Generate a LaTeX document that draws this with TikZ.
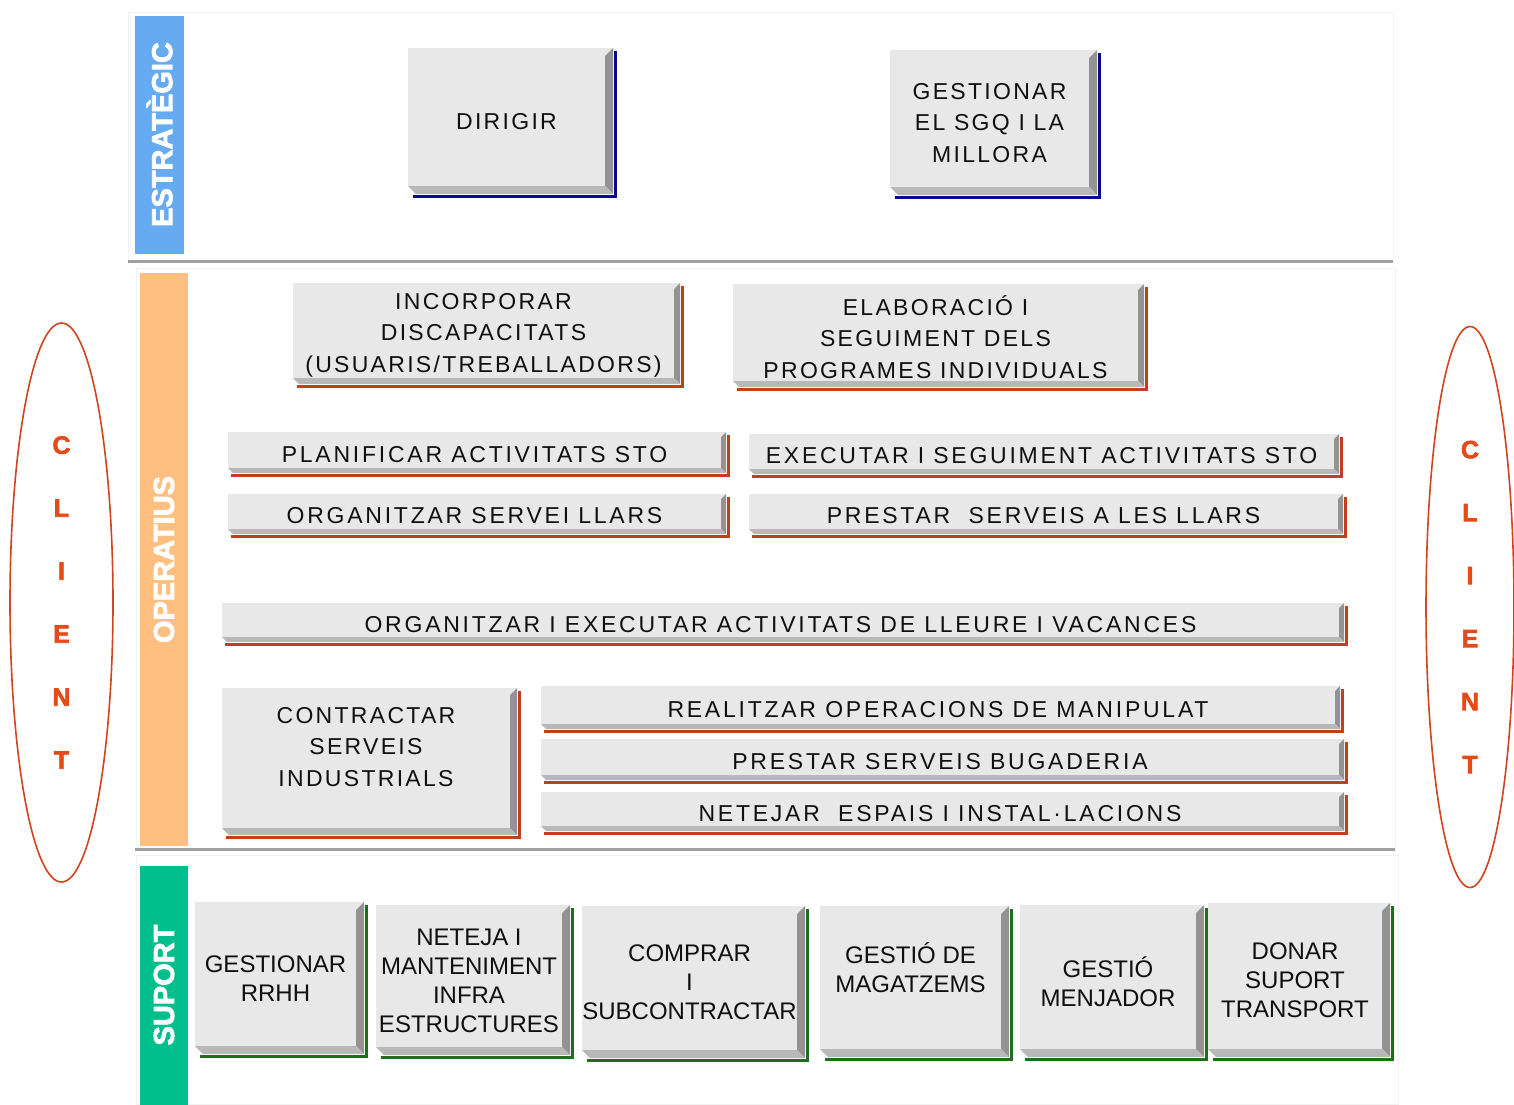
\documentclass[tikz,border=0pt]{standalone}
\usepackage{fontspec}
\setmainfont{Liberation Sans}
\newfontfamily\trackfont[LetterSpace=10]{Liberation Sans}
\newfontfamily\widetrackfont[LetterSpace=12]{Liberation Sans}
\newfontfamily\heavyfont[FakeBold=2.5]{Liberation Sans}
\usetikzlibrary{calc,shapes.geometric}
\definecolor{bandblue}{HTML}{66AAF2}
\definecolor{bandorange}{HTML}{FFBF80}
\definecolor{bandgreen}{HTML}{00BF8C}
\definecolor{facegray}{HTML}{E8E8E8}
\definecolor{bevdark}{HTML}{939393}
\definecolor{bevlight}{HTML}{B8B8B8}
\definecolor{linenavy}{HTML}{0A0A8C}
\definecolor{linered}{HTML}{C0401E}
\definecolor{linegreen}{HTML}{1E6E1E}
\definecolor{clientred}{HTML}{E44A1A}
\definecolor{ellred}{HTML}{D04420}
\definecolor{sepgray}{HTML}{A0A0A0}
\newcommand\curfont{}
\tikzset{
  facebox/.style={draw=none, fill=facegray, inner sep=0pt, outer sep=0pt},
  boxtext/.style={inner sep=0pt, align=center, text=black!94, font=\curfont},
  bandbox/.style={draw=none, inner sep=0pt, outer sep=0pt, text=white,
    font=\heavyfont\bfseries\fontsize{29}{30}\selectfont},
  clientell/.style={ellipse, draw=ellred, line width=1.6pt, inner sep=0pt,
    align=center, text=clientred, font=\heavyfont\bfseries\fontsize{25}{63}\selectfont},
  sepline/.style={draw=sepgray, line width=3pt},
  panel/.style={draw=black!5, line width=0.8pt},
  boxline/.style={line width=3pt}
}
% #1 bevel, #2 name, #3 x1, #4 y1, #5 x2 (face), #6 y2 (face), #7 line colour, #8 text
\newcommand\pbox[8][6]{%
  \pgfmathsetmacro\bw{#5-#3}\pgfmathsetmacro\bh{#6-#4}%
  \node[facebox, minimum width=\bw pt, minimum height=\bh pt, anchor=north west] (#2) at (#3,#4) {};
  \fill[facegray] (#2.north east) -- ($(#2.north east)+(#1,0)$) -- ($(#2.north east)+(0,#1)$) -- cycle;
  \fill[bevdark] ($(#2.north east)+(0,#1)$) -- ($(#2.north east)+(#1,0)$) -- ($(#2.south east)+(#1,#1)$) -- (#2.south east) -- cycle;
  \fill[bevlight] (#2.south west) -- (#2.south east) -- ($(#2.south east)+(#1,#1)$) -- ($(#2.south west)+(#1,#1)$) -- cycle;
  \draw[boxline, #7] ($(#2.north east)+(#1+2.5,3)$) -- ($(#2.south east)+(#1+2.5,#1+2.5)$) -- ($(#2.south west)+(#1*0.6,#1+2.5)$);
  \node[boxtext] (#2-t) at ($(#2.center)+(0,4.5)$) {#8};
}
\begin{document}
\begin{tikzpicture}[x=1pt,y=-1pt]
\useasboundingbox (0,0) rectangle (1514,1104);
\fill[white] (0,0) rectangle (1514,1104);

% panels
\draw[panel] (128,12) rectangle (1393,261);
\draw[panel] (136,268) rectangle (1395,849);
\draw[panel] (136,855) rectangle (1398,1104);
\draw[sepline] (128,261) -- (1393,261);
\draw[sepline] (135,849) -- (1395,849);

% bands
\node[bandbox, fill=bandblue, minimum width=238, minimum height=49, rotate=90] (estr) at (159.5,134.5) {ESTRATÈGIC};
\node[bandbox, fill=bandorange, minimum width=573, minimum height=48, rotate=90] (oper) at (164,559.5) {OPERATIUS};
\node[bandbox, fill=bandgreen, minimum width=239, minimum height=48, rotate=90] (supo) at (164,985) {SUPORT};

% client ellipses
\node[clientell, minimum width=103, minimum height=559] (clientl) at (61.5,602.5) {C\\L\\I\\E\\N\\T};
\node[clientell, minimum width=88, minimum height=561] (clientr) at (1470,607) {C\\L\\I\\E\\N\\T};

% strategic
\renewcommand\curfont{\trackfont\fontsize{23}{31.5}\selectfont}
\pbox[8]{dir}{408}{48}{605}{186}{linenavy}{DIRIGIR}
\pbox[8]{sgq}{890}{50}{1089}{187}{linenavy}{GESTIONAR\\EL SGQ I LA\\MILLORA}

% operational, multi-line
\pbox[6]{inc}{293}{283}{674}{378}{linered}{INCORPORAR\\DISCAPACITATS\\(USUARIS/TREBALLADORS)}
\pbox[6]{elab}{733}{284}{1138}{381}{linered}{ELABORACIÓ I\\SEGUIMENT DELS\\PROGRAMES INDIVIDUALS}
\pbox[7]{contr}{222}{688}{510}{828}{linered}{CONTRACTAR\\SERVEIS\\INDUSTRIALS\\\mbox{}}

% operational, single-line
\renewcommand\curfont{\widetrackfont\fontsize{23}{31.5}\selectfont}
\pbox[5]{plan}{228}{432}{721}{468}{linered}{PLANIFICAR ACTIVITATS STO}
\pbox[5]{exec}{749}{434}{1334}{469}{linered}{EXECUTAR I SEGUIMENT ACTIVITATS STO}
\pbox[5]{orgll}{228}{494}{721}{529}{linered}{ORGANITZAR SERVEI LLARS}
\pbox[5]{prest}{749}{494}{1338}{529}{linered}{PRESTAR~ SERVEIS A LES LLARS}
\pbox[5]{lleure}{222}{603}{1339}{637}{linered}{ORGANITZAR I EXECUTAR ACTIVITATS DE LLEURE I VACANCES}
\pbox[5]{real}{541}{686}{1335}{724}{linered}{REALITZAR OPERACIONS DE MANIPULAT}
\pbox[5]{bug}{541}{739}{1339}{775}{linered}{PRESTAR SERVEIS BUGADERIA}
\pbox[5]{net}{541}{792}{1339}{826}{linered}{NETEJAR~ ESPAIS I INSTAL·LACIONS}

% support
\renewcommand\curfont{\fontsize{24}{29}\selectfont}
\pbox[8]{rrhh}{195}{902}{356}{1046}{linegreen}{GESTIONAR\\RRHH}
\pbox[8]{netm}{376}{905}{562}{1047}{linegreen}{NETEJA I\\MANTENIMENT\\INFRA\\ESTRUCTURES}
\pbox[8]{compr}{582}{906}{797}{1050}{linegreen}{COMPRAR\\I\\SUBCONTRACTAR}
\pbox[8]{magat}{820}{906}{1001}{1049}{linegreen}{GESTIÓ DE\\MAGATZEMS\\\mbox{}}
\pbox[8]{menj}{1020}{905}{1196}{1049}{linegreen}{GESTIÓ\\MENJADOR}
\pbox[8]{donar}{1208}{903}{1382}{1049}{linegreen}{DONAR\\SUPORT\\TRANSPORT}
\end{tikzpicture}
\end{document}
